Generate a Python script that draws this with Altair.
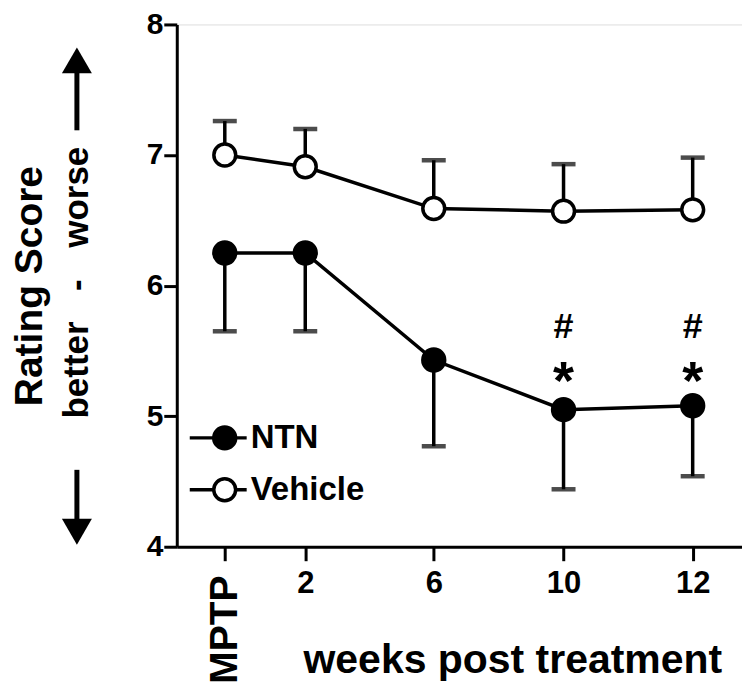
import altair as alt
import pandas as pd

# ---- data ----
time_labels = ["MPTP", "2", "6", "10", "12"]
x_index = [0, 0.62, 1.61, 2.61, 3.605]
ntn_mean = [6.25, 6.25, 5.43, 5.05, 5.08]
ntn_err_low = [5.65, 5.65, 4.77, 4.44, 4.54]
veh_mean = [7.0, 6.91, 6.59, 6.57, 6.58]
veh_err_high = [7.26, 7.2, 6.96, 6.93, 6.98]
sig_x = [2.61, 3.605]
sig_hash_y = [5.68, 5.68]
sig_star_y = [5.33, 5.33]

FONT = "Liberation Sans"
W, H = 566, 523

rows = []
for i, t in enumerate(time_labels):
    rows.append({"time": t, "x": x_index[i], "series": "NTN", "mean": ntn_mean[i], "err": ntn_err_low[i]})
    rows.append({"time": t, "x": x_index[i], "series": "Vehicle", "mean": veh_mean[i], "err": veh_err_high[i]})
df = pd.DataFrame(rows)
sig = pd.DataFrame({"x": sig_x, "hash": sig_hash_y, "star": sig_star_y})

label_expr = " : ".join(
    f"datum.value == {x} ? '{'' if t == 'MPTP' else t}'" for x, t in zip(x_index, time_labels)
) + " : ''"

xscale = alt.Scale(domain=[-0.37, 3.985], nice=False, zero=False)
yscale = alt.Scale(domain=[4, 8], nice=False, zero=False)

base = alt.Chart(df)

x_enc = alt.X(
    "x:Q", scale=xscale,
    axis=alt.Axis(
        values=x_index, labelExpr=label_expr, grid=False, domainWidth=3, tickWidth=3,
        tickSize=14, labelPadding=8, labelFontSize=31, labelFontWeight="bold", labelFont=FONT,
        labelColor="black", title="weeks post treatment", titleFontSize=41, titleFont=FONT,
        titleFontWeight="bold", titleColor="black", titleX=336, titleY=114,
        titleBaseline="middle", domainColor="black", tickColor="black", labelFlush=False,
    ),
)
y_enc = alt.Y(
    "mean:Q", scale=yscale,
    axis=alt.Axis(
        values=[4, 5, 6, 7, 8], format="d", grid=False, domainWidth=3, tickWidth=3, tickSize=13,
        labelPadding=1, labelFontSize=30, labelFontWeight="bold", labelFont=FONT,
        labelColor="black", labelBaseline="middle", title="Rating Score", titleFontSize=39, titleFont=FONT,
        titleFontWeight="bold", titleColor="black", titleX=-147, titleY=H / 2,
        titleAngle=270, titleBaseline="middle", domainColor="black", tickColor="black",
        labelFlush=False,
    ),
)

err_rule = base.mark_rule(color="black", strokeWidth=3.5).encode(
    x=x_enc, y=y_enc, y2="err:Q", detail="series:N"
)
err_cap = base.mark_tick(color="black", thickness=4.5, size=24, orient="horizontal").encode(
    x="x:Q", y="err:Q", detail="series:N"
)
lines = base.mark_line(color="black", strokeWidth=3.5).encode(
    x="x:Q", y="mean:Q", detail="series:N"
)
fill_scale = alt.Scale(domain=["NTN", "Vehicle"], range=["black", "white"])
pts = base.mark_point(filled=False, strokeWidth=3.5, size=480, opacity=1, shape="circle").encode(
    x="x:Q", y="mean:Q",
    fill=alt.Fill("series:N", scale=fill_scale, legend=None),
    stroke=alt.value("black"),
)

hashes = alt.Chart(sig).mark_text(text="#", font=FONT, fontSize=36, fontWeight="bold", color="black", baseline="middle").encode(
    x="x:Q", y="hash:Q"
)
stars = alt.Chart(sig).mark_text(text="*", font=FONT, fontSize=54, fontWeight="bold", color="black", baseline="middle", dy=10).encode(
    x="x:Q", y="star:Q"
)

mptp = alt.Chart(pd.DataFrame({"x": [x_index[0]], "t": [time_labels[0]]})).mark_text(
    angle=270, font=FONT, fontSize=39, fontWeight="bold", color="black", align="center", baseline="middle"
).encode(x="x:Q", y=alt.value(H + 83), text="t:N")

# legend drawn by hand
leg_df = pd.DataFrame({"series": ["NTN", "Vehicle"], "py": [414, 466]})
leg_line = alt.Chart(leg_df).mark_rule(color="black", strokeWidth=3.5).encode(
    x=alt.value(13), x2=alt.value(70), y=alt.Y("py:Q", scale=None)
)
leg_pt = alt.Chart(leg_df).mark_point(filled=False, strokeWidth=3.5, size=480, opacity=1).encode(
    x=alt.value(48), y=alt.Y("py:Q", scale=None),
    fill=alt.Fill("series:N", scale=fill_scale, legend=None),
    stroke=alt.value("black"),
)
leg_txt = alt.Chart(leg_df).mark_text(align="left", baseline="middle", font=FONT, fontSize=33, fontWeight="bold", color="black").encode(
    x=alt.value(74), y=alt.Y("py:Q", scale=None), text="series:N"
)

# "better - worse" annotation with arrows beside the y title
bw_df = pd.DataFrame({"t": ["better", "-", "worse"], "py": [346, 261, 173]})
bw_txt = alt.Chart(bw_df).mark_text(angle=270, font=FONT, fontSize=35, fontWeight="bold", color="black", align="center", baseline="middle").encode(
    x=alt.value(-100), y=alt.Y("py:Q", scale=None), text="t:N"
)
one = pd.DataFrame({"k": [0]})
arrow_up = alt.Chart(one).mark_rule(color="black", strokeWidth=5).encode(
    x=alt.value(-100), y=alt.value(106), y2=alt.value(40)
)
arrow_dn = alt.Chart(one).mark_rule(color="black", strokeWidth=5).encode(
    x=alt.value(-100), y=alt.value(446), y2=alt.value(505)
)
head_up = alt.Chart(one).mark_point(shape="triangle-up", filled=True, color="black", size=900, opacity=1).encode(
    x=alt.value(-100), y=alt.value(36)
)
head_dn = alt.Chart(one).mark_point(shape="triangle-down", filled=True, color="black", size=900, opacity=1).encode(
    x=alt.value(-100), y=alt.value(508)
)

chart = alt.layer(
    err_rule, err_cap, lines, pts, hashes, stars, mptp,
    leg_line, leg_pt, leg_txt, bw_txt, arrow_up, arrow_dn, head_up, head_dn,
).resolve_scale(fill="shared").properties(
    width=W, height=H,
    autosize=alt.AutoSizeParams(type="none"),
    padding={"left": 169, "top": 16, "right": 0, "bottom": 138},
).configure_view(stroke=None).configure(background="white")

chart.save("out.html", embed_options={"renderer": "svg", "actions": False})
